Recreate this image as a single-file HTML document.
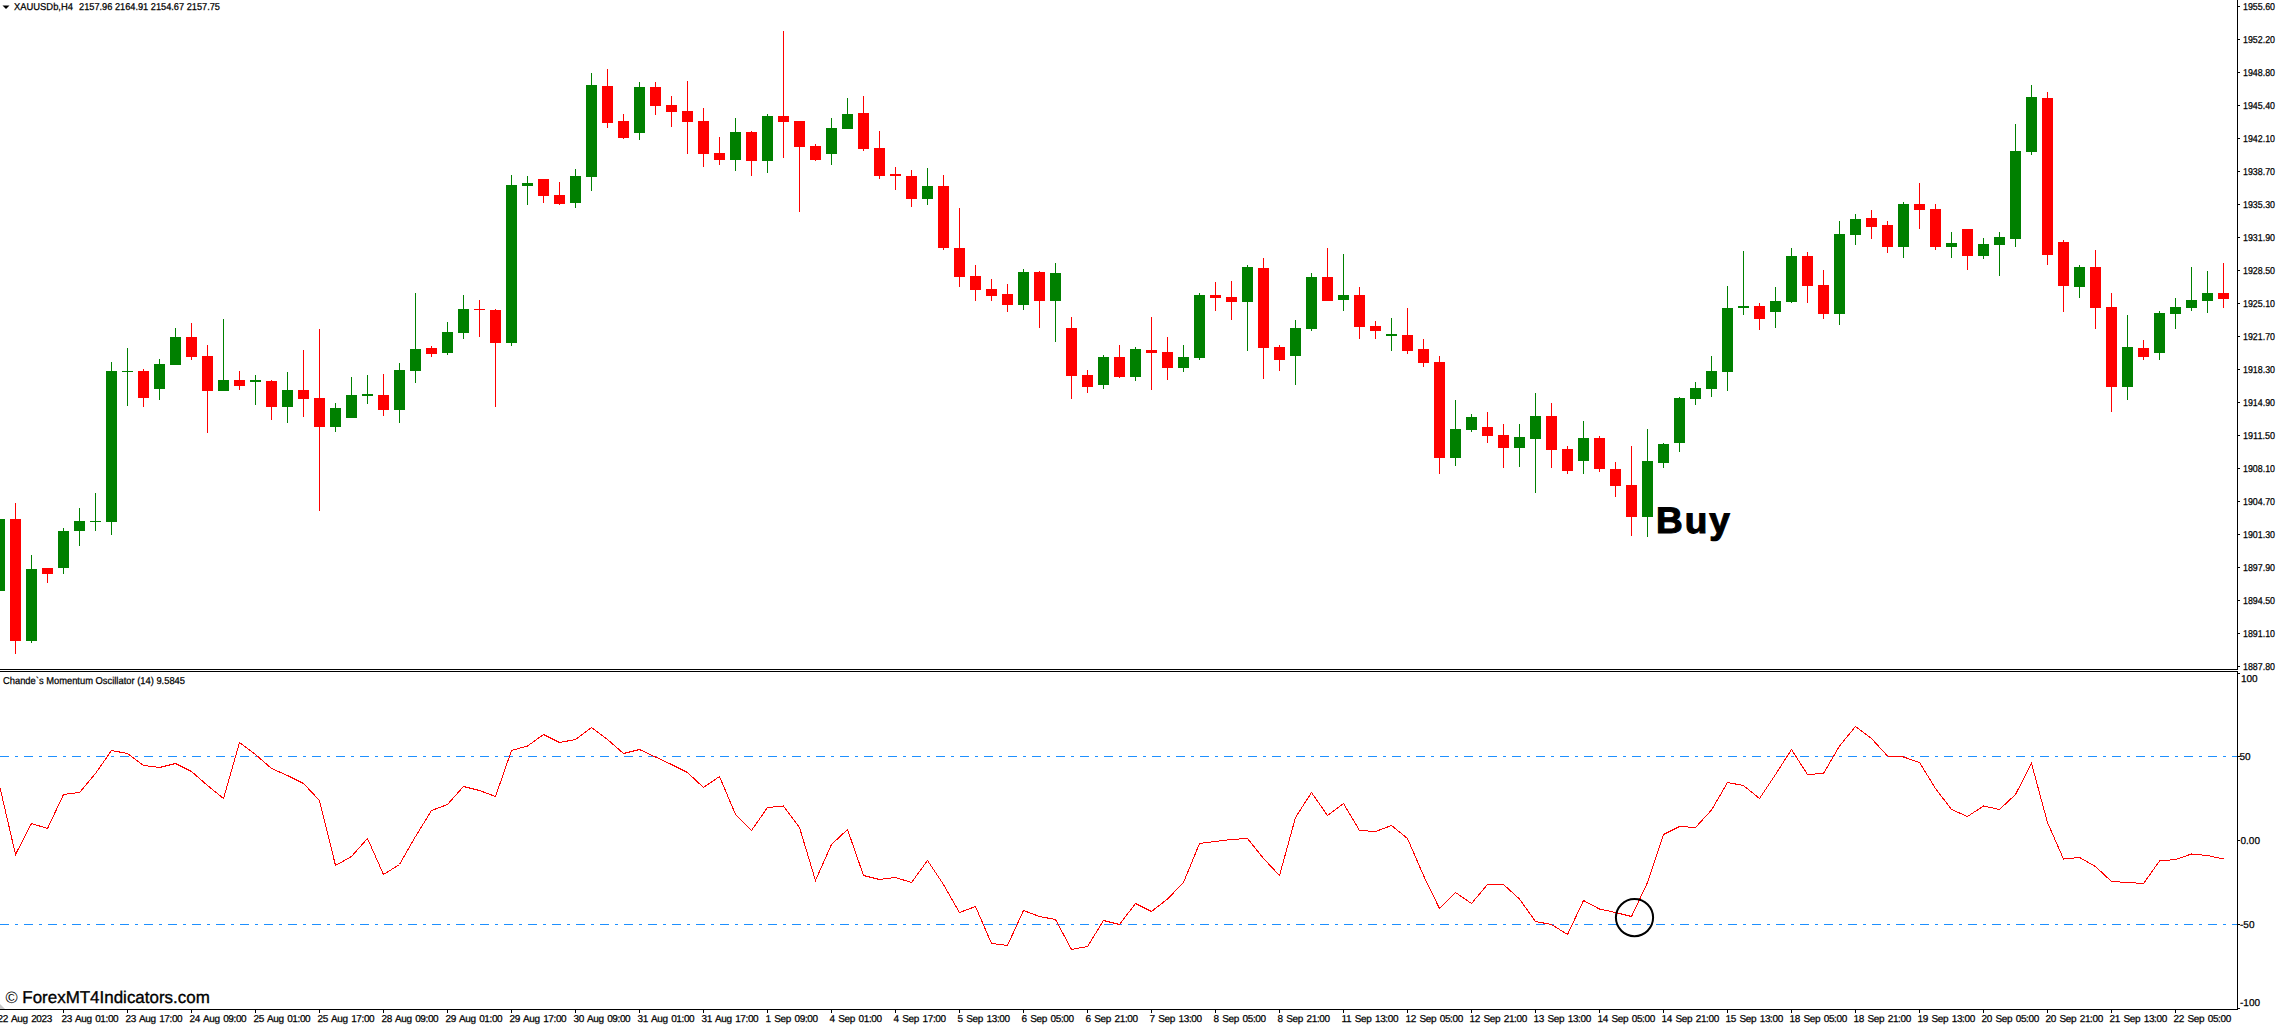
<!DOCTYPE html>
<html><head><meta charset="utf-8">
<style>
html,body{margin:0;padding:0;background:#fff;width:2281px;height:1025px;overflow:hidden}
svg{display:block}
text{font-family:"Liberation Sans",sans-serif;fill:#000}
.ax{font-size:10px;stroke:#000;stroke-width:0.25px}
.dt{letter-spacing:-0.38px;word-spacing:1.2px}
.hdr{font-size:10px;stroke:#000;stroke-width:0.25px}
</style></head><body>
<svg width="2281" height="1025" viewBox="0 0 2281 1025" text-rendering="geometricPrecision">
<rect x="0" y="0" width="2281" height="1025" fill="#fff"/>
<g shape-rendering="crispEdges">
<line x1="0" y1="756.5" x2="2237" y2="756.5" stroke="#1e90ff" stroke-width="1" stroke-dasharray="9 6 3 6"/>
<line x1="0" y1="924.5" x2="2237" y2="924.5" stroke="#1e90ff" stroke-width="1" stroke-dasharray="9 6 3 6"/>
<rect x="-1" y="515" width="1" height="80" fill="#008000"/>
<rect x="-6" y="519" width="11" height="72" fill="#008000"/>
<rect x="15" y="503" width="1" height="151" fill="#ff0000"/>
<rect x="10" y="519" width="11" height="122" fill="#ff0000"/>
<rect x="31" y="555" width="1" height="88" fill="#008000"/>
<rect x="26" y="569" width="11" height="72" fill="#008000"/>
<rect x="47" y="568" width="1" height="15" fill="#ff0000"/>
<rect x="42" y="568" width="11" height="6" fill="#ff0000"/>
<rect x="63" y="528" width="1" height="46" fill="#008000"/>
<rect x="58" y="531" width="11" height="37" fill="#008000"/>
<rect x="79" y="508" width="1" height="38" fill="#008000"/>
<rect x="74" y="521" width="11" height="10" fill="#008000"/>
<rect x="95" y="493" width="1" height="38" fill="#008000"/>
<rect x="90" y="521" width="11" height="1" fill="#008000"/>
<rect x="111" y="362" width="1" height="173" fill="#008000"/>
<rect x="106" y="371" width="11" height="151" fill="#008000"/>
<rect x="127" y="348" width="1" height="58" fill="#008000"/>
<rect x="122" y="371" width="11" height="1" fill="#008000"/>
<rect x="143" y="369" width="1" height="38" fill="#ff0000"/>
<rect x="138" y="371" width="11" height="27" fill="#ff0000"/>
<rect x="159" y="359" width="1" height="41" fill="#008000"/>
<rect x="154" y="364" width="11" height="25" fill="#008000"/>
<rect x="175" y="328" width="1" height="37" fill="#008000"/>
<rect x="170" y="337" width="11" height="28" fill="#008000"/>
<rect x="191" y="323" width="1" height="37" fill="#ff0000"/>
<rect x="186" y="337" width="11" height="20" fill="#ff0000"/>
<rect x="207" y="345" width="1" height="88" fill="#ff0000"/>
<rect x="202" y="356" width="11" height="35" fill="#ff0000"/>
<rect x="223" y="319" width="1" height="72" fill="#008000"/>
<rect x="218" y="380" width="11" height="11" fill="#008000"/>
<rect x="239" y="371" width="1" height="19" fill="#ff0000"/>
<rect x="234" y="380" width="11" height="6" fill="#ff0000"/>
<rect x="255" y="375" width="1" height="30" fill="#008000"/>
<rect x="250" y="380" width="11" height="2" fill="#008000"/>
<rect x="271" y="380" width="1" height="40" fill="#ff0000"/>
<rect x="266" y="381" width="11" height="26" fill="#ff0000"/>
<rect x="287" y="372" width="1" height="51" fill="#008000"/>
<rect x="282" y="390" width="11" height="17" fill="#008000"/>
<rect x="303" y="350" width="1" height="67" fill="#ff0000"/>
<rect x="298" y="390" width="11" height="9" fill="#ff0000"/>
<rect x="319" y="329" width="1" height="182" fill="#ff0000"/>
<rect x="314" y="398" width="11" height="29" fill="#ff0000"/>
<rect x="335" y="403" width="1" height="29" fill="#008000"/>
<rect x="330" y="408" width="11" height="19" fill="#008000"/>
<rect x="351" y="377" width="1" height="41" fill="#008000"/>
<rect x="346" y="395" width="11" height="23" fill="#008000"/>
<rect x="367" y="375" width="1" height="29" fill="#008000"/>
<rect x="362" y="394" width="11" height="2" fill="#008000"/>
<rect x="383" y="374" width="1" height="42" fill="#ff0000"/>
<rect x="378" y="395" width="11" height="15" fill="#ff0000"/>
<rect x="399" y="363" width="1" height="60" fill="#008000"/>
<rect x="394" y="370" width="11" height="40" fill="#008000"/>
<rect x="415" y="293" width="1" height="90" fill="#008000"/>
<rect x="410" y="349" width="11" height="22" fill="#008000"/>
<rect x="431" y="346" width="1" height="11" fill="#ff0000"/>
<rect x="426" y="348" width="11" height="6" fill="#ff0000"/>
<rect x="447" y="322" width="1" height="33" fill="#008000"/>
<rect x="442" y="332" width="11" height="21" fill="#008000"/>
<rect x="463" y="295" width="1" height="44" fill="#008000"/>
<rect x="458" y="309" width="11" height="24" fill="#008000"/>
<rect x="479" y="300" width="1" height="37" fill="#ff0000"/>
<rect x="474" y="309" width="11" height="1" fill="#ff0000"/>
<rect x="495" y="309" width="1" height="98" fill="#ff0000"/>
<rect x="490" y="310" width="11" height="33" fill="#ff0000"/>
<rect x="511" y="175" width="1" height="171" fill="#008000"/>
<rect x="506" y="185" width="11" height="158" fill="#008000"/>
<rect x="527" y="176" width="1" height="29" fill="#008000"/>
<rect x="522" y="183" width="11" height="3" fill="#008000"/>
<rect x="543" y="179" width="1" height="24" fill="#ff0000"/>
<rect x="538" y="179" width="11" height="17" fill="#ff0000"/>
<rect x="559" y="182" width="1" height="23" fill="#ff0000"/>
<rect x="554" y="195" width="11" height="9" fill="#ff0000"/>
<rect x="575" y="169" width="1" height="39" fill="#008000"/>
<rect x="570" y="176" width="11" height="27" fill="#008000"/>
<rect x="591" y="73" width="1" height="118" fill="#008000"/>
<rect x="586" y="85" width="11" height="92" fill="#008000"/>
<rect x="607" y="69" width="1" height="59" fill="#ff0000"/>
<rect x="602" y="86" width="11" height="37" fill="#ff0000"/>
<rect x="623" y="114" width="1" height="25" fill="#ff0000"/>
<rect x="618" y="121" width="11" height="17" fill="#ff0000"/>
<rect x="639" y="82" width="1" height="58" fill="#008000"/>
<rect x="634" y="87" width="11" height="46" fill="#008000"/>
<rect x="655" y="82" width="1" height="33" fill="#ff0000"/>
<rect x="650" y="87" width="11" height="19" fill="#ff0000"/>
<rect x="671" y="96" width="1" height="31" fill="#ff0000"/>
<rect x="666" y="105" width="11" height="7" fill="#ff0000"/>
<rect x="687" y="81" width="1" height="73" fill="#ff0000"/>
<rect x="682" y="111" width="11" height="11" fill="#ff0000"/>
<rect x="703" y="108" width="1" height="59" fill="#ff0000"/>
<rect x="698" y="121" width="11" height="33" fill="#ff0000"/>
<rect x="719" y="137" width="1" height="28" fill="#ff0000"/>
<rect x="714" y="153" width="11" height="7" fill="#ff0000"/>
<rect x="735" y="118" width="1" height="53" fill="#008000"/>
<rect x="730" y="132" width="11" height="28" fill="#008000"/>
<rect x="751" y="131" width="1" height="45" fill="#ff0000"/>
<rect x="746" y="132" width="11" height="29" fill="#ff0000"/>
<rect x="767" y="114" width="1" height="59" fill="#008000"/>
<rect x="762" y="116" width="11" height="45" fill="#008000"/>
<rect x="783" y="31" width="1" height="127" fill="#ff0000"/>
<rect x="778" y="116" width="11" height="6" fill="#ff0000"/>
<rect x="799" y="121" width="1" height="91" fill="#ff0000"/>
<rect x="794" y="121" width="11" height="26" fill="#ff0000"/>
<rect x="815" y="144" width="1" height="17" fill="#ff0000"/>
<rect x="810" y="146" width="11" height="14" fill="#ff0000"/>
<rect x="831" y="118" width="1" height="47" fill="#008000"/>
<rect x="826" y="128" width="11" height="26" fill="#008000"/>
<rect x="847" y="98" width="1" height="31" fill="#008000"/>
<rect x="842" y="114" width="11" height="15" fill="#008000"/>
<rect x="863" y="96" width="1" height="55" fill="#ff0000"/>
<rect x="858" y="113" width="11" height="36" fill="#ff0000"/>
<rect x="879" y="131" width="1" height="48" fill="#ff0000"/>
<rect x="874" y="148" width="11" height="28" fill="#ff0000"/>
<rect x="895" y="167" width="1" height="23" fill="#ff0000"/>
<rect x="890" y="174" width="11" height="2" fill="#ff0000"/>
<rect x="911" y="170" width="1" height="37" fill="#ff0000"/>
<rect x="906" y="176" width="11" height="23" fill="#ff0000"/>
<rect x="927" y="168" width="1" height="37" fill="#008000"/>
<rect x="922" y="186" width="11" height="13" fill="#008000"/>
<rect x="943" y="175" width="1" height="75" fill="#ff0000"/>
<rect x="938" y="186" width="11" height="62" fill="#ff0000"/>
<rect x="959" y="208" width="1" height="79" fill="#ff0000"/>
<rect x="954" y="248" width="11" height="29" fill="#ff0000"/>
<rect x="975" y="265" width="1" height="36" fill="#ff0000"/>
<rect x="970" y="276" width="11" height="14" fill="#ff0000"/>
<rect x="991" y="279" width="1" height="22" fill="#ff0000"/>
<rect x="986" y="289" width="11" height="7" fill="#ff0000"/>
<rect x="1007" y="284" width="1" height="28" fill="#ff0000"/>
<rect x="1002" y="294" width="11" height="11" fill="#ff0000"/>
<rect x="1023" y="269" width="1" height="41" fill="#008000"/>
<rect x="1018" y="272" width="11" height="33" fill="#008000"/>
<rect x="1039" y="271" width="1" height="57" fill="#ff0000"/>
<rect x="1034" y="272" width="11" height="29" fill="#ff0000"/>
<rect x="1055" y="263" width="1" height="79" fill="#008000"/>
<rect x="1050" y="273" width="11" height="28" fill="#008000"/>
<rect x="1071" y="317" width="1" height="82" fill="#ff0000"/>
<rect x="1066" y="328" width="11" height="48" fill="#ff0000"/>
<rect x="1087" y="370" width="1" height="23" fill="#ff0000"/>
<rect x="1082" y="375" width="11" height="12" fill="#ff0000"/>
<rect x="1103" y="355" width="1" height="34" fill="#008000"/>
<rect x="1098" y="357" width="11" height="28" fill="#008000"/>
<rect x="1119" y="345" width="1" height="33" fill="#ff0000"/>
<rect x="1114" y="357" width="11" height="20" fill="#ff0000"/>
<rect x="1135" y="347" width="1" height="34" fill="#008000"/>
<rect x="1130" y="349" width="11" height="28" fill="#008000"/>
<rect x="1151" y="317" width="1" height="73" fill="#ff0000"/>
<rect x="1146" y="350" width="11" height="3" fill="#ff0000"/>
<rect x="1167" y="337" width="1" height="43" fill="#ff0000"/>
<rect x="1162" y="352" width="11" height="16" fill="#ff0000"/>
<rect x="1183" y="345" width="1" height="27" fill="#008000"/>
<rect x="1178" y="357" width="11" height="11" fill="#008000"/>
<rect x="1199" y="293" width="1" height="67" fill="#008000"/>
<rect x="1194" y="295" width="11" height="63" fill="#008000"/>
<rect x="1215" y="282" width="1" height="29" fill="#ff0000"/>
<rect x="1210" y="295" width="11" height="3" fill="#ff0000"/>
<rect x="1231" y="281" width="1" height="39" fill="#ff0000"/>
<rect x="1226" y="297" width="11" height="5" fill="#ff0000"/>
<rect x="1247" y="265" width="1" height="86" fill="#008000"/>
<rect x="1242" y="267" width="11" height="35" fill="#008000"/>
<rect x="1263" y="258" width="1" height="121" fill="#ff0000"/>
<rect x="1258" y="268" width="11" height="80" fill="#ff0000"/>
<rect x="1279" y="345" width="1" height="26" fill="#ff0000"/>
<rect x="1274" y="347" width="11" height="13" fill="#ff0000"/>
<rect x="1295" y="320" width="1" height="65" fill="#008000"/>
<rect x="1290" y="328" width="11" height="28" fill="#008000"/>
<rect x="1311" y="273" width="1" height="58" fill="#008000"/>
<rect x="1306" y="277" width="11" height="52" fill="#008000"/>
<rect x="1327" y="248" width="1" height="53" fill="#ff0000"/>
<rect x="1322" y="277" width="11" height="24" fill="#ff0000"/>
<rect x="1343" y="254" width="1" height="57" fill="#008000"/>
<rect x="1338" y="295" width="11" height="5" fill="#008000"/>
<rect x="1359" y="287" width="1" height="52" fill="#ff0000"/>
<rect x="1354" y="295" width="11" height="32" fill="#ff0000"/>
<rect x="1375" y="321" width="1" height="18" fill="#ff0000"/>
<rect x="1370" y="326" width="11" height="5" fill="#ff0000"/>
<rect x="1391" y="318" width="1" height="33" fill="#008000"/>
<rect x="1386" y="334" width="11" height="2" fill="#008000"/>
<rect x="1407" y="308" width="1" height="46" fill="#ff0000"/>
<rect x="1402" y="335" width="11" height="16" fill="#ff0000"/>
<rect x="1423" y="339" width="1" height="28" fill="#ff0000"/>
<rect x="1418" y="349" width="11" height="14" fill="#ff0000"/>
<rect x="1439" y="356" width="1" height="118" fill="#ff0000"/>
<rect x="1434" y="362" width="11" height="96" fill="#ff0000"/>
<rect x="1455" y="400" width="1" height="66" fill="#008000"/>
<rect x="1450" y="429" width="11" height="29" fill="#008000"/>
<rect x="1471" y="414" width="1" height="18" fill="#008000"/>
<rect x="1466" y="417" width="11" height="13" fill="#008000"/>
<rect x="1487" y="412" width="1" height="31" fill="#ff0000"/>
<rect x="1482" y="427" width="11" height="9" fill="#ff0000"/>
<rect x="1503" y="424" width="1" height="44" fill="#ff0000"/>
<rect x="1498" y="435" width="11" height="13" fill="#ff0000"/>
<rect x="1519" y="424" width="1" height="43" fill="#008000"/>
<rect x="1514" y="437" width="11" height="11" fill="#008000"/>
<rect x="1535" y="393" width="1" height="100" fill="#008000"/>
<rect x="1530" y="416" width="11" height="23" fill="#008000"/>
<rect x="1551" y="403" width="1" height="65" fill="#ff0000"/>
<rect x="1546" y="416" width="11" height="34" fill="#ff0000"/>
<rect x="1567" y="446" width="1" height="28" fill="#ff0000"/>
<rect x="1562" y="449" width="11" height="22" fill="#ff0000"/>
<rect x="1583" y="421" width="1" height="53" fill="#008000"/>
<rect x="1578" y="438" width="11" height="23" fill="#008000"/>
<rect x="1599" y="436" width="1" height="36" fill="#ff0000"/>
<rect x="1594" y="438" width="11" height="31" fill="#ff0000"/>
<rect x="1615" y="462" width="1" height="35" fill="#ff0000"/>
<rect x="1610" y="469" width="11" height="17" fill="#ff0000"/>
<rect x="1631" y="446" width="1" height="90" fill="#ff0000"/>
<rect x="1626" y="485" width="11" height="32" fill="#ff0000"/>
<rect x="1647" y="429" width="1" height="108" fill="#008000"/>
<rect x="1642" y="461" width="11" height="56" fill="#008000"/>
<rect x="1663" y="443" width="1" height="25" fill="#008000"/>
<rect x="1658" y="444" width="11" height="19" fill="#008000"/>
<rect x="1679" y="397" width="1" height="55" fill="#008000"/>
<rect x="1674" y="398" width="11" height="45" fill="#008000"/>
<rect x="1695" y="382" width="1" height="23" fill="#008000"/>
<rect x="1690" y="388" width="11" height="11" fill="#008000"/>
<rect x="1711" y="356" width="1" height="41" fill="#008000"/>
<rect x="1706" y="371" width="11" height="18" fill="#008000"/>
<rect x="1727" y="286" width="1" height="105" fill="#008000"/>
<rect x="1722" y="308" width="11" height="64" fill="#008000"/>
<rect x="1743" y="251" width="1" height="64" fill="#008000"/>
<rect x="1738" y="306" width="11" height="2" fill="#008000"/>
<rect x="1759" y="303" width="1" height="27" fill="#ff0000"/>
<rect x="1754" y="306" width="11" height="13" fill="#ff0000"/>
<rect x="1775" y="287" width="1" height="41" fill="#008000"/>
<rect x="1770" y="301" width="11" height="11" fill="#008000"/>
<rect x="1791" y="248" width="1" height="55" fill="#008000"/>
<rect x="1786" y="256" width="11" height="46" fill="#008000"/>
<rect x="1807" y="252" width="1" height="51" fill="#ff0000"/>
<rect x="1802" y="256" width="11" height="30" fill="#ff0000"/>
<rect x="1823" y="270" width="1" height="49" fill="#ff0000"/>
<rect x="1818" y="285" width="11" height="29" fill="#ff0000"/>
<rect x="1839" y="221" width="1" height="104" fill="#008000"/>
<rect x="1834" y="234" width="11" height="80" fill="#008000"/>
<rect x="1855" y="214" width="1" height="31" fill="#008000"/>
<rect x="1850" y="219" width="11" height="16" fill="#008000"/>
<rect x="1871" y="210" width="1" height="29" fill="#ff0000"/>
<rect x="1866" y="218" width="11" height="9" fill="#ff0000"/>
<rect x="1887" y="221" width="1" height="32" fill="#ff0000"/>
<rect x="1882" y="225" width="11" height="22" fill="#ff0000"/>
<rect x="1903" y="202" width="1" height="56" fill="#008000"/>
<rect x="1898" y="204" width="11" height="43" fill="#008000"/>
<rect x="1919" y="183" width="1" height="46" fill="#ff0000"/>
<rect x="1914" y="204" width="11" height="6" fill="#ff0000"/>
<rect x="1935" y="204" width="1" height="46" fill="#ff0000"/>
<rect x="1930" y="209" width="11" height="38" fill="#ff0000"/>
<rect x="1951" y="232" width="1" height="26" fill="#008000"/>
<rect x="1946" y="243" width="11" height="4" fill="#008000"/>
<rect x="1967" y="229" width="1" height="41" fill="#ff0000"/>
<rect x="1962" y="229" width="11" height="27" fill="#ff0000"/>
<rect x="1983" y="238" width="1" height="21" fill="#008000"/>
<rect x="1978" y="244" width="11" height="12" fill="#008000"/>
<rect x="1999" y="232" width="1" height="44" fill="#008000"/>
<rect x="1994" y="237" width="11" height="8" fill="#008000"/>
<rect x="2015" y="124" width="1" height="123" fill="#008000"/>
<rect x="2010" y="151" width="11" height="88" fill="#008000"/>
<rect x="2031" y="85" width="1" height="70" fill="#008000"/>
<rect x="2026" y="97" width="11" height="55" fill="#008000"/>
<rect x="2047" y="92" width="1" height="173" fill="#ff0000"/>
<rect x="2042" y="98" width="11" height="157" fill="#ff0000"/>
<rect x="2063" y="240" width="1" height="72" fill="#ff0000"/>
<rect x="2058" y="242" width="11" height="44" fill="#ff0000"/>
<rect x="2079" y="265" width="1" height="33" fill="#008000"/>
<rect x="2074" y="267" width="11" height="20" fill="#008000"/>
<rect x="2095" y="250" width="1" height="79" fill="#ff0000"/>
<rect x="2090" y="267" width="11" height="41" fill="#ff0000"/>
<rect x="2111" y="293" width="1" height="119" fill="#ff0000"/>
<rect x="2106" y="307" width="11" height="80" fill="#ff0000"/>
<rect x="2127" y="315" width="1" height="85" fill="#008000"/>
<rect x="2122" y="347" width="11" height="40" fill="#008000"/>
<rect x="2143" y="340" width="1" height="20" fill="#ff0000"/>
<rect x="2138" y="348" width="11" height="9" fill="#ff0000"/>
<rect x="2159" y="311" width="1" height="49" fill="#008000"/>
<rect x="2154" y="313" width="11" height="40" fill="#008000"/>
<rect x="2175" y="298" width="1" height="31" fill="#008000"/>
<rect x="2170" y="307" width="11" height="7" fill="#008000"/>
<rect x="2191" y="267" width="1" height="44" fill="#008000"/>
<rect x="2186" y="300" width="11" height="8" fill="#008000"/>
<rect x="2207" y="271" width="1" height="42" fill="#008000"/>
<rect x="2202" y="293" width="11" height="8" fill="#008000"/>
<rect x="2223" y="263" width="1" height="45" fill="#ff0000"/>
<rect x="2218" y="293" width="11" height="6" fill="#ff0000"/>
<rect x="2237" y="0" width="1" height="670" fill="#000"/>
<rect x="2237" y="671" width="1" height="339" fill="#000"/>
<rect x="0" y="1009" width="2238" height="1" fill="#000"/>
<rect x="0" y="669" width="2238" height="1" fill="#000"/>
<rect x="0" y="671" width="2238" height="1" fill="#000"/>
<rect x="2238" y="6" width="2" height="1" fill="#000"/>
<text class="ax" x="2243" y="10" textLength="32" lengthAdjust="spacingAndGlyphs">1955.60</text>
<rect x="2238" y="39" width="2" height="1" fill="#000"/>
<text class="ax" x="2243" y="43" textLength="32" lengthAdjust="spacingAndGlyphs">1952.20</text>
<rect x="2238" y="72" width="2" height="1" fill="#000"/>
<text class="ax" x="2243" y="76" textLength="32" lengthAdjust="spacingAndGlyphs">1948.80</text>
<rect x="2238" y="105" width="2" height="1" fill="#000"/>
<text class="ax" x="2243" y="109" textLength="32" lengthAdjust="spacingAndGlyphs">1945.40</text>
<rect x="2238" y="138" width="2" height="1" fill="#000"/>
<text class="ax" x="2243" y="142" textLength="32" lengthAdjust="spacingAndGlyphs">1942.10</text>
<rect x="2238" y="171" width="2" height="1" fill="#000"/>
<text class="ax" x="2243" y="175" textLength="32" lengthAdjust="spacingAndGlyphs">1938.70</text>
<rect x="2238" y="204" width="2" height="1" fill="#000"/>
<text class="ax" x="2243" y="208" textLength="32" lengthAdjust="spacingAndGlyphs">1935.30</text>
<rect x="2238" y="237" width="2" height="1" fill="#000"/>
<text class="ax" x="2243" y="241" textLength="32" lengthAdjust="spacingAndGlyphs">1931.90</text>
<rect x="2238" y="270" width="2" height="1" fill="#000"/>
<text class="ax" x="2243" y="274" textLength="32" lengthAdjust="spacingAndGlyphs">1928.50</text>
<rect x="2238" y="303" width="2" height="1" fill="#000"/>
<text class="ax" x="2243" y="307" textLength="32" lengthAdjust="spacingAndGlyphs">1925.10</text>
<rect x="2238" y="336" width="2" height="1" fill="#000"/>
<text class="ax" x="2243" y="340" textLength="32" lengthAdjust="spacingAndGlyphs">1921.70</text>
<rect x="2238" y="369" width="2" height="1" fill="#000"/>
<text class="ax" x="2243" y="373" textLength="32" lengthAdjust="spacingAndGlyphs">1918.30</text>
<rect x="2238" y="402" width="2" height="1" fill="#000"/>
<text class="ax" x="2243" y="406" textLength="32" lengthAdjust="spacingAndGlyphs">1914.90</text>
<rect x="2238" y="435" width="2" height="1" fill="#000"/>
<text class="ax" x="2243" y="439" textLength="32" lengthAdjust="spacingAndGlyphs">1911.50</text>
<rect x="2238" y="468" width="2" height="1" fill="#000"/>
<text class="ax" x="2243" y="472" textLength="32" lengthAdjust="spacingAndGlyphs">1908.10</text>
<rect x="2238" y="501" width="2" height="1" fill="#000"/>
<text class="ax" x="2243" y="505" textLength="32" lengthAdjust="spacingAndGlyphs">1904.70</text>
<rect x="2238" y="534" width="2" height="1" fill="#000"/>
<text class="ax" x="2243" y="538" textLength="32" lengthAdjust="spacingAndGlyphs">1901.30</text>
<rect x="2238" y="567" width="2" height="1" fill="#000"/>
<text class="ax" x="2243" y="571" textLength="32" lengthAdjust="spacingAndGlyphs">1897.90</text>
<rect x="2238" y="600" width="2" height="1" fill="#000"/>
<text class="ax" x="2243" y="604" textLength="32" lengthAdjust="spacingAndGlyphs">1894.50</text>
<rect x="2238" y="633" width="2" height="1" fill="#000"/>
<text class="ax" x="2243" y="637" textLength="32" lengthAdjust="spacingAndGlyphs">1891.10</text>
<rect x="2238" y="666" width="2" height="1" fill="#000"/>
<text class="ax" x="2243" y="670" textLength="32" lengthAdjust="spacingAndGlyphs">1887.80</text>
<rect x="2238" y="673" width="2" height="1" fill="#000"/>
<text class="ax" x="2241" y="682">100</text>
<rect x="2238" y="756" width="2" height="1" fill="#000"/>
<text class="ax" x="2239.5" y="760">50</text>
<rect x="2238" y="840" width="2" height="1" fill="#000"/>
<text class="ax" x="2240.5" y="844">0.00</text>
<rect x="2238" y="924" width="2" height="1" fill="#000"/>
<text class="ax" x="2240" y="928">-50</text>
<rect x="2238" y="1008" width="2" height="1" fill="#000"/>
<text class="ax" x="2240" y="1006">-100</text>
<rect x="-1" y="1010" width="1" height="3" fill="#000"/>
<text class="ax dt" x="-2.5" y="1022">22 Aug 2023</text>
<rect x="63" y="1010" width="1" height="3" fill="#000"/>
<text class="ax dt" x="61.5" y="1022">23 Aug 01:00</text>
<rect x="127" y="1010" width="1" height="3" fill="#000"/>
<text class="ax dt" x="125.5" y="1022">23 Aug 17:00</text>
<rect x="191" y="1010" width="1" height="3" fill="#000"/>
<text class="ax dt" x="189.5" y="1022">24 Aug 09:00</text>
<rect x="255" y="1010" width="1" height="3" fill="#000"/>
<text class="ax dt" x="253.5" y="1022">25 Aug 01:00</text>
<rect x="319" y="1010" width="1" height="3" fill="#000"/>
<text class="ax dt" x="317.5" y="1022">25 Aug 17:00</text>
<rect x="383" y="1010" width="1" height="3" fill="#000"/>
<text class="ax dt" x="381.5" y="1022">28 Aug 09:00</text>
<rect x="447" y="1010" width="1" height="3" fill="#000"/>
<text class="ax dt" x="445.5" y="1022">29 Aug 01:00</text>
<rect x="511" y="1010" width="1" height="3" fill="#000"/>
<text class="ax dt" x="509.5" y="1022">29 Aug 17:00</text>
<rect x="575" y="1010" width="1" height="3" fill="#000"/>
<text class="ax dt" x="573.5" y="1022">30 Aug 09:00</text>
<rect x="639" y="1010" width="1" height="3" fill="#000"/>
<text class="ax dt" x="637.5" y="1022">31 Aug 01:00</text>
<rect x="703" y="1010" width="1" height="3" fill="#000"/>
<text class="ax dt" x="701.5" y="1022">31 Aug 17:00</text>
<rect x="767" y="1010" width="1" height="3" fill="#000"/>
<text class="ax dt" x="765.5" y="1022">1 Sep 09:00</text>
<rect x="831" y="1010" width="1" height="3" fill="#000"/>
<text class="ax dt" x="829.5" y="1022">4 Sep 01:00</text>
<rect x="895" y="1010" width="1" height="3" fill="#000"/>
<text class="ax dt" x="893.5" y="1022">4 Sep 17:00</text>
<rect x="959" y="1010" width="1" height="3" fill="#000"/>
<text class="ax dt" x="957.5" y="1022">5 Sep 13:00</text>
<rect x="1023" y="1010" width="1" height="3" fill="#000"/>
<text class="ax dt" x="1021.5" y="1022">6 Sep 05:00</text>
<rect x="1087" y="1010" width="1" height="3" fill="#000"/>
<text class="ax dt" x="1085.5" y="1022">6 Sep 21:00</text>
<rect x="1151" y="1010" width="1" height="3" fill="#000"/>
<text class="ax dt" x="1149.5" y="1022">7 Sep 13:00</text>
<rect x="1215" y="1010" width="1" height="3" fill="#000"/>
<text class="ax dt" x="1213.5" y="1022">8 Sep 05:00</text>
<rect x="1279" y="1010" width="1" height="3" fill="#000"/>
<text class="ax dt" x="1277.5" y="1022">8 Sep 21:00</text>
<rect x="1343" y="1010" width="1" height="3" fill="#000"/>
<text class="ax dt" x="1341.5" y="1022">11 Sep 13:00</text>
<rect x="1407" y="1010" width="1" height="3" fill="#000"/>
<text class="ax dt" x="1405.5" y="1022">12 Sep 05:00</text>
<rect x="1471" y="1010" width="1" height="3" fill="#000"/>
<text class="ax dt" x="1469.5" y="1022">12 Sep 21:00</text>
<rect x="1535" y="1010" width="1" height="3" fill="#000"/>
<text class="ax dt" x="1533.5" y="1022">13 Sep 13:00</text>
<rect x="1599" y="1010" width="1" height="3" fill="#000"/>
<text class="ax dt" x="1597.5" y="1022">14 Sep 05:00</text>
<rect x="1663" y="1010" width="1" height="3" fill="#000"/>
<text class="ax dt" x="1661.5" y="1022">14 Sep 21:00</text>
<rect x="1727" y="1010" width="1" height="3" fill="#000"/>
<text class="ax dt" x="1725.5" y="1022">15 Sep 13:00</text>
<rect x="1791" y="1010" width="1" height="3" fill="#000"/>
<text class="ax dt" x="1789.5" y="1022">18 Sep 05:00</text>
<rect x="1855" y="1010" width="1" height="3" fill="#000"/>
<text class="ax dt" x="1853.5" y="1022">18 Sep 21:00</text>
<rect x="1919" y="1010" width="1" height="3" fill="#000"/>
<text class="ax dt" x="1917.5" y="1022">19 Sep 13:00</text>
<rect x="1983" y="1010" width="1" height="3" fill="#000"/>
<text class="ax dt" x="1981.5" y="1022">20 Sep 05:00</text>
<rect x="2047" y="1010" width="1" height="3" fill="#000"/>
<text class="ax dt" x="2045.5" y="1022">20 Sep 21:00</text>
<rect x="2111" y="1010" width="1" height="3" fill="#000"/>
<text class="ax dt" x="2109.5" y="1022">21 Sep 13:00</text>
<rect x="2175" y="1010" width="1" height="3" fill="#000"/>
<text class="ax dt" x="2173.5" y="1022">22 Sep 05:00</text>
</g>
<polyline points="-0.5,785.5 15.5,854.5 31.5,823.5 47.5,828.5 63.5,794.5 79.5,792.5 95.5,773.5 111.5,750.5 127.5,753.5 143.5,765.5 159.5,767.5 175.5,763.5 191.5,771.5 207.5,785.5 223.5,798.5 239.5,742.5 255.5,754.5 271.5,768.5 287.5,775.5 303.5,783.5 319.5,800.5 335.5,865.5 351.5,856.5 367.5,838.5 383.5,874.5 399.5,864.5 415.5,836.5 431.5,810.5 447.5,804.5 463.5,786.5 479.5,790.5 495.5,796.5 511.5,750.5 527.5,746.0 543.5,734.5 559.5,742.5 575.5,739.5 591.5,727.5 607.5,739.5 623.5,753.5 639.5,749.5 655.5,757.0 671.5,764.5 687.5,772.5 703.5,787.5 719.5,776.5 735.5,814.5 751.5,830.5 767.5,807.5 783.5,806.0 799.5,827.5 815.5,880.5 831.5,844.5 847.5,829.5 863.5,875.5 879.5,879.5 895.5,877.5 911.5,882.5 927.5,860.5 943.5,884.5 959.5,912.5 975.5,906.5 991.5,943.5 1007.5,945.5 1023.5,910.5 1039.5,916.5 1055.5,919.5 1071.5,949.5 1087.5,946.5 1103.5,920.5 1119.5,924.5 1135.5,903.5 1151.5,911.5 1167.5,899.0 1183.5,882.5 1199.5,843.5 1215.5,841.5 1231.5,839.5 1247.5,838.5 1263.5,858.5 1279.5,875.5 1295.5,817.5 1311.5,792.5 1327.5,815.5 1343.5,803.5 1359.5,830.5 1375.5,831.5 1391.5,825.5 1407.5,838.5 1423.5,875.5 1439.5,908.5 1455.5,892.5 1471.5,903.5 1487.5,884.5 1503.5,884.5 1519.5,899.0 1535.5,921.5 1551.5,924.5 1567.5,934.5 1583.5,900.5 1599.5,909.0 1615.5,912.5 1631.5,916.5 1647.5,882.5 1663.5,834.5 1679.5,826.5 1695.5,827.5 1711.5,810.0 1727.5,782.5 1743.5,785.5 1759.5,798.5 1775.5,774.5 1791.5,749.5 1807.5,774.5 1823.5,773.5 1839.5,746.0 1855.5,726.5 1871.5,738.5 1887.5,756.0 1903.5,757.0 1919.5,762.5 1935.5,788.5 1951.5,809.5 1967.5,816.5 1983.5,806.0 1999.5,809.5 2015.5,794.5 2031.5,763.5 2047.5,822.5 2063.5,859.0 2079.5,857.5 2095.5,866.5 2111.5,881.5 2127.5,882.5 2143.5,883.5 2159.5,861.0 2175.5,859.5 2191.5,854.0 2207.5,855.5 2223.5,859.0" fill="none" stroke="#ff0000" stroke-width="1" shape-rendering="crispEdges"/>
<circle cx="1634.5" cy="917.6" r="18.6" fill="none" stroke="#000" stroke-width="2"/>
<text x="1656" y="532.8" style="font-size:37px;font-weight:bold;stroke:#000;stroke-width:1.1px;letter-spacing:2.0px">Buy</text>
<path d="M2.5 5.5 L9.5 5.5 L6 9 Z" fill="#000"/>
<text class="hdr" x="14" y="10" textLength="59" lengthAdjust="spacingAndGlyphs">XAUUSDb,H4</text>
<text class="hdr" x="79" y="10" textLength="141" lengthAdjust="spacingAndGlyphs">2157.96 2164.91 2154.67 2157.75</text>
<text class="hdr" x="3" y="684" textLength="182" lengthAdjust="spacingAndGlyphs">Chande`s Momentum Oscillator (14) 9.5845</text>
<text x="5.6" y="1003" style="font-size:16.5px">©</text><text x="22.3" y="1003" style="font-size:17px;stroke:#000;stroke-width:0.35px" textLength="187.5" lengthAdjust="spacingAndGlyphs">ForexMT4Indicators.com</text>
<path d="M0 1004 L0 1009 L5 1009 Z" fill="#c8c8c8"/>
</svg>
</body></html>
